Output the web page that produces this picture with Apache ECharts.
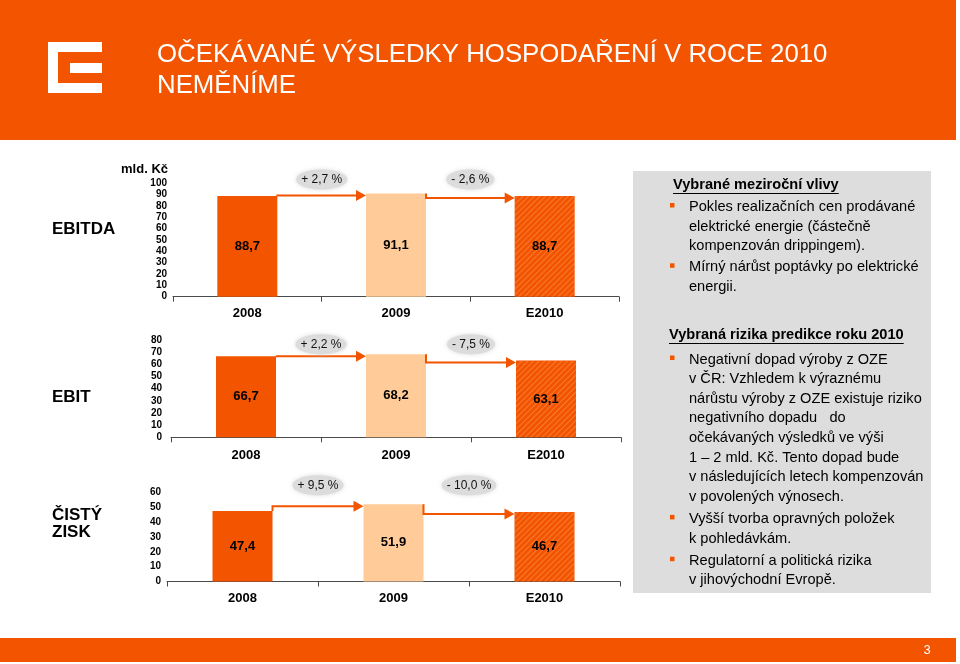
<!DOCTYPE html>
<html><head><meta charset="utf-8">
<script src="https://cdn.jsdelivr.net/npm/echarts@6/dist/echarts.min.js"></script>
<style>html,body{margin:0;padding:0;background:#fff}#c{width:960px;height:664px}</style>
</head><body><div id="c"></div>
<script>
// ---- data ----
var categories = ['2008', '2009', 'E2010'];
var ebitdaValues = [88.7, 91.1, 88.7];
var ebitValues = [66.7, 68.2, 63.1];
var netValues = [47.4, 51.9, 46.7];
var ebitdaChanges = ['+ 2,7 %', '- 2,6 %'];
var ebitChanges = ['+ 2,2 %', '- 7,5 %'];
var netChanges = ['+ 9,5 %', '- 10,0 %'];
var ebitdaAxisMax = 100, ebitAxisMax = 80, netAxisMax = 60, axisStep = 10;
var rowLabels = ['EBITDA', 'EBIT', 'ČISTÝ\nZISK'];
var unitLabel = 'mld. Kč';
var titleLines = ['OČEKÁVANÉ VÝSLEDKY HOSPODAŘENÍ V ROCE 2010', 'NEMĚNÍME'];
var box1Title = 'Vybrané meziroční vlivy';
var box1Bullets = [
  ['Pokles realizačních cen prodávané', 'elektrické energie (částečně', 'kompenzován drippingem).'],
  ['Mírný nárůst poptávky po elektrické', 'energii.']
];
var box2Title = 'Vybraná rizika predikce roku 2010';
var box2Bullets = [
  ['Negativní dopad výroby z OZE', 'v ČR: Vzhledem k výraznému', 'nárůstu výroby z OZE existuje riziko',
   'negativního dopadu   do', 'očekávaných výsledků ve výši', '1 – 2 mld. Kč. Tento dopad bude',
   'v následujících letech kompenzován', 'v povolených výnosech.'],
  ['Vyšší tvorba opravných položek', 'k pohledávkám.'],
  ['Regulatorní a politická rizika', 'v jihovýchodní Evropě.']
];
var pageNumber = '3';

// ---- styling ----
var FONT = "'Liberation Sans', Arial, sans-serif";
var ORANGE = '#F25400';
var PEACH = '#FFCC99';
var BAR_W = 60;

var chart = echarts.init(document.getElementById('c'), null, {renderer: 'canvas'});
var measureCtx = document.createElement('canvas').getContext('2d');
function textWidth(t, font) { measureCtx.font = font; return measureCtx.measureText(t).width; }

var grids = [
  {left: 173, top: 183.3, width: 446, height: 113.4},
  {left: 171, top: 340, width: 450, height: 97.3},
  {left: 167, top: 492.3, width: 453, height: 89.2}
];
var datasets = [ebitdaValues, ebitValues, netValues];
var changes = [ebitdaChanges, ebitChanges, netChanges];
var maxes = [ebitdaAxisMax, ebitAxisMax, netAxisMax];
var catMargins = [10, 11.5, 10];
var yMargins = [6, 9, 6];
var labelOffsets = [14, 10, 19];

function fmt(v) { return v.toFixed(1).replace('.', ','); }

function barData(vals) {
  return vals.map(function (v, i) {
    var st = {color: i === 1 ? PEACH : ORANGE};
    if (i === 2) {
      st.decal = {symbol: 'rect', symbolSize: 1, color: 'rgba(255,160,100,0.5)',
        dashArrayX: [1, 0], dashArrayY: [1, 3], rotation: -Math.PI / 4};
    }
    return {value: v, itemStyle: st};
  });
}

var xAxes = [], yAxes = [], series = [];
grids.forEach(function (g, gi) {
  xAxes.push({
    type: 'category', gridIndex: gi, data: categories, boundaryGap: true,
    axisLine: {show: true, lineStyle: {color: '#4a4a4a', width: 1}},
    axisTick: {show: true, length: 5, lineStyle: {color: '#4a4a4a'}},
    axisLabel: {color: '#000', fontFamily: FONT, fontSize: 13, fontWeight: 'bold', margin: catMargins[gi]},
    splitLine: {show: false}
  });
  yAxes.push({
    type: 'value', gridIndex: gi, min: 0, max: maxes[gi], interval: axisStep,
    axisLine: {show: false}, axisTick: {show: false}, splitLine: {show: false},
    axisLabel: {color: '#000', fontFamily: FONT, fontSize: 10, fontWeight: 'bold', margin: yMargins[gi]}
  });
  var vals = datasets[gi];
  series.push({
    type: 'bar', xAxisIndex: gi, yAxisIndex: gi, barWidth: BAR_W,
    data: barData(vals),
    label: {show: true, position: 'inside', color: '#000', fontFamily: FONT, fontSize: 13, fontWeight: 'bold',
      formatter: function (p) { return fmt(p.value); }}
  });
  var chg = changes[gi];
  var off = labelOffsets[gi];
  series.push({
    type: 'custom', xAxisIndex: gi, yAxisIndex: gi, clip: false, z: 5,
    data: [[0, vals[0], vals[1], 0], [1, vals[1], vals[2], 1]],
    renderItem: function (params, api) {
      var i = api.value(0);
      var from = api.coord([i, api.value(1)]);
      var to = api.coord([i + 1, api.value(2)]);
      var x0 = from[0] + BAR_W / 2, y0 = from[1];
      var x1 = to[0] - BAR_W / 2, y1 = to[1] + 2;
      var topY = Math.min(from[1], to[1]);
      var lx = (from[0] + to[0]) / 2, ly = topY - off;
      var txt = chg[api.value(3)];
      var rx = textWidth(txt, '12px ' + FONT) / 2 + 5;
      return {type: 'group', children: [
        {type: 'polyline', shape: {points: [[x0, y0], [x0, y1], [x1 - 8, y1]]},
          style: {stroke: ORANGE, lineWidth: 2, fill: null}},
        {type: 'polygon', shape: {points: [[x1 - 10, y1 - 5.5], [x1, y1], [x1 - 10, y1 + 5.5]]},
          style: {fill: ORANGE}},
        {type: 'ellipse', shape: {cx: lx, cy: ly, rx: rx, ry: 10},
          style: {fill: '#DCDCDC', shadowBlur: 4, shadowColor: 'rgba(210,210,210,0.8)'}},
        {type: 'text', style: {text: txt, x: lx, y: ly, textAlign: 'center', textVerticalAlign: 'middle',
          font: '12px ' + FONT, fill: '#111'}}
      ]};
    }
  });
});

// ---- graphics (header, footer, text box) ----
var graphics = [];
graphics.push({type: 'rect', shape: {x: 0, y: 0, width: 956, height: 140}, style: {fill: ORANGE}, z: 0});
graphics.push({type: 'rect', shape: {x: 0, y: 638, width: 956, height: 24}, style: {fill: ORANGE}, z: 0});
// logo
[[48, 42, 54, 10], [48, 42, 10, 51], [48, 83, 54, 10], [70, 63, 32, 10]].forEach(function (r) {
  graphics.push({type: 'rect', shape: {x: r[0], y: r[1], width: r[2], height: r[3]}, style: {fill: '#fff'}, z: 1});
});
titleLines.forEach(function (t, i) {
  graphics.push({type: 'text', style: {text: t, x: 157, y: 55 + i * 31, textVerticalAlign: 'middle',
    font: '25.8px ' + FONT, fill: '#fff'}, z: 1});
});
graphics.push({type: 'text', style: {text: pageNumber, x: 927, y: 650, textAlign: 'center', textVerticalAlign: 'middle',
  font: '13px ' + FONT, fill: '#fff'}, z: 1});
// row labels
var rowY = [229, 397, 523.5];
rowLabels.forEach(function (t, i) {
  graphics.push({type: 'text', style: {text: t, x: 52, y: rowY[i], textVerticalAlign: 'middle',
    font: 'bold 17px ' + FONT, fill: '#000', lineHeight: 17}, z: 1});
});
graphics.push({type: 'text', style: {text: unitLabel, x: 168, y: 169, textAlign: 'right', textVerticalAlign: 'middle',
  font: 'bold 13px ' + FONT, fill: '#000'}, z: 1});
// grey box
graphics.push({type: 'rect', shape: {x: 633, y: 171, width: 298, height: 422}, style: {fill: '#DDDDDD'}, z: 0});

var BOX_FONT = '14.6px ' + FONT;
var BOX_TITLE_FONT = 'bold 14.6px ' + FONT;
function addBlock(title, tx, ty, bullets, startY, gaps) {
  graphics.push({type: 'text', style: {text: title, x: tx, y: ty, textVerticalAlign: 'middle',
    font: BOX_TITLE_FONT, fill: '#000'}, z: 2});
  var w = textWidth(title, BOX_TITLE_FONT);
  graphics.push({type: 'line', shape: {x1: tx, y1: ty + 8.5, x2: tx + w, y2: ty + 8.5},
    style: {stroke: '#000', lineWidth: 1}, z: 2});
  var y = startY;
  bullets.forEach(function (lines) {
    graphics.push({type: 'rect', shape: {x: 670, y: y - 4, width: 4.5, height: 4.5}, style: {fill: ORANGE}, z: 2});
    lines.forEach(function (l) {
      graphics.push({type: 'text', style: {text: l, x: 689, y: y, textVerticalAlign: 'middle',
        font: BOX_FONT, fill: '#000'}, z: 2});
      y += 19.6;
    });
    y += gaps;
  });
}
addBlock(box1Title, 673, 185, box1Bullets, 207, 1.5);
addBlock(box2Title, 669, 335, box2Bullets, 359.5, 2.6);

chart.setOption({
  animation: false,
  backgroundColor: '#fff',
  grid: grids,
  xAxis: xAxes,
  yAxis: yAxes,
  series: series,
  graphic: graphics
});
</script></body></html>
